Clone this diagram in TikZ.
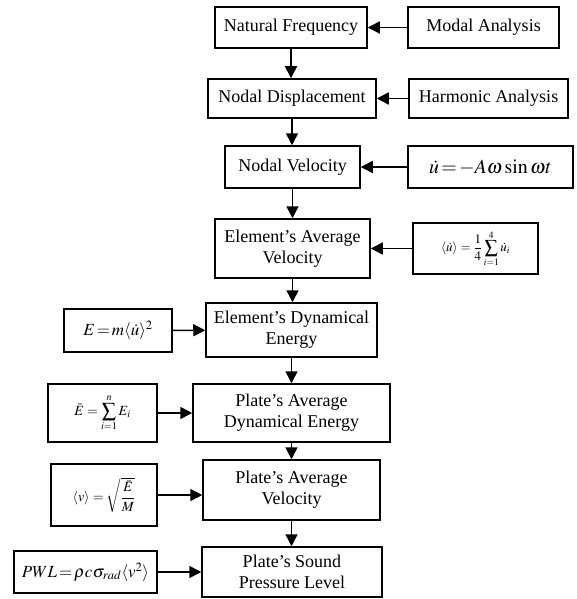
\documentclass[tikz,border=0pt]{standalone}
\usepackage{amsmath}
\usepackage{mathptmx}
\usepackage[no-math]{fontspec}
\setmainfont{Liberation Serif}
\usetikzlibrary{arrows.meta}

\begin{document}
\begin{tikzpicture}[x=1pt, y=-1pt, line width=1.5pt, ->, >={Triangle[length=12pt,width=12pt]},
  main node/.style={draw, align=center, inner sep=0pt, font=\fontsize{18}{21}\selectfont},
  eq node/.style={draw, inner sep=0pt}]
\useasboundingbox (0,0) rectangle (577,599);

\node[main node, minimum width=152pt, minimum height=41pt] (nf) at (291,27.5) {Natural Frequency};
\node[main node, minimum width=151pt, minimum height=41pt] (ma) at (483.5,27.5) {Modal Analysis};
\node[main node, minimum width=168pt, minimum height=39pt] (nd) at (292,98.5) {Nodal Displacement};
\node[main node, minimum width=159pt, minimum height=39pt] (ha) at (488.5,98.5) {Harmonic Analysis};
\node[main node, minimum width=135pt, minimum height=42pt] (nv) at (292.5,167) {Nodal Velocity};
\node[eq node, minimum width=165pt, minimum height=42pt, font=\fontsize{20}{24}\selectfont] (vel) at (490.5,167)
  {$\dot{u}\!=\!-A\omega\sin\omega t$};
\node[main node, minimum width=155pt, minimum height=59pt] (eav) at (292.5,248.5) {Element's Average\\Velocity};
\node[eq node, minimum width=125pt, minimum height=51pt, font=\fontsize{13}{15}\selectfont] (avg) at (475.5,248.5)
  {$\langle\dot{u}\rangle=\dfrac{1}{4}\displaystyle\sum_{i=1}^{4}\dot{u}_i$};
\node[main node, minimum width=171pt, minimum height=54pt] (ede) at (291.5,330) {Element's Dynamical\\Energy};
\node[eq node, minimum width=108pt, minimum height=43pt, font=\fontsize{17}{20}\selectfont] (en) at (118,330.5)
  {$E\!=\!m\langle\dot{u}\rangle^2$};
\node[main node, minimum width=197pt, minimum height=58pt] (pade) at (291.5,413) {Plate's Average\\Dynamical Energy};
\node[eq node, minimum width=109pt, minimum height=58pt, font=\fontsize{14}{16}\selectfont] (sum) at (102.5,413)
  {$\bar{E}=\displaystyle\sum_{i=1}^{n}E_i$};
\node[main node, minimum width=177pt, minimum height=60pt] (pav) at (291.5,490) {Plate's Average\\Velocity};
\node[eq node, minimum width=106pt, minimum height=62pt, font=\fontsize{14}{16}\selectfont] (rms) at (104,495)
  {$\langle v\rangle=\sqrt{\dfrac{\bar{E}}{M}}$};
\node[main node, minimum width=180pt, minimum height=50pt] (spl) at (292,572) {Plate's Sound\\Pressure Level};
\node[eq node, minimum width=143pt, minimum height=42pt, font=\fontsize{17}{20}\selectfont] (pwl) at (85.5,572)
  {$PWL\!=\!\rho c\sigma_{rad}\langle v^2\rangle$};

\path
(ma) edge (nf)
(ha) edge (nd)
(vel) edge (nv)
(avg) edge (eav)
(en) edge (ede)
(sum) edge (pade)
(rms) edge (rms -| pav.west)
(pwl) edge (spl)
(nf) edge (nf |- nd.north)
(nd) edge (nd |- nv.north)
(nv) edge (nv |- eav.north)
(eav) edge (eav |- ede.north)
(ede) edge (ede |- pade.north)
(pade) edge (pade |- pav.north)
(pav) edge (pav |- spl.north);
\end{tikzpicture}
\end{document}
